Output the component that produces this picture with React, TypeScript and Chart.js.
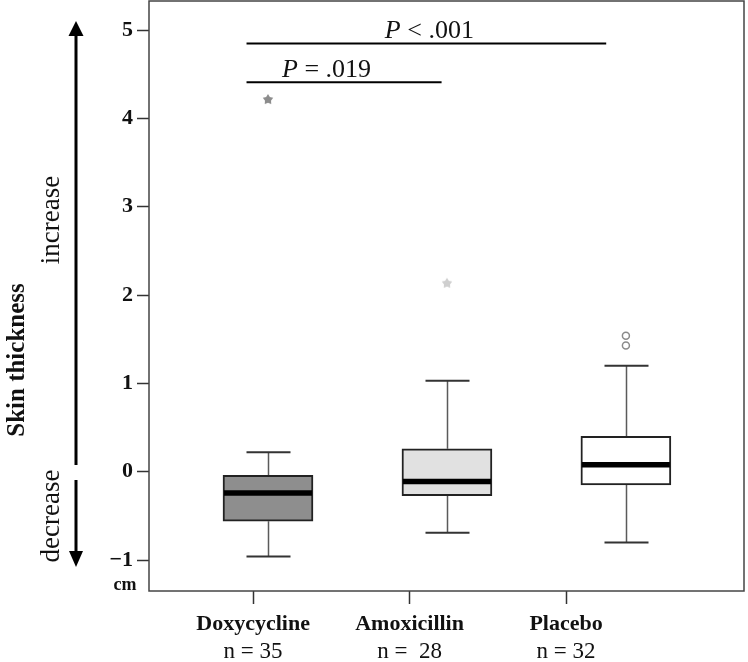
import React, { useEffect, useRef } from "react";
import { Chart, registerables } from "chart.js";

Chart.register(...registerables);

// ---- data ----
const groups = ["Doxycycline", "Amoxicillin", "Placebo"];
const groupN = ["n = 35", "n =  28", "n = 32"];
const whiskerLow = [-0.96, -0.69, -0.8];
const quartile1 = [-0.56, -0.27, -0.15];
const medians = [-0.24, -0.11, 0.08];
const quartile3 = [-0.04, 0.26, 0.4];
const whiskerHigh = [0.22, 1.03, 1.2];
const extremeGroup = [0, 1];
const extremeValue = [4.22, 2.14];
const outlierGroup = [2, 2];
const outlierValue = [1.54, 1.43];
const yTicks = [-1, 0, 1, 2, 3, 4, 5];
const sigLabels = ["P < .001", "P = .019"];
const sigLevel = [4.85, 4.41];
const sigFrom = [-0.12, -0.12];
const sigTo = [1.89, 0.97];

const SERIF = "'Liberation Serif', 'Times New Roman', serif";
const boxFill = ["#8e8e8e", "#e1e1e1", "#ffffff"];
const starColor = ["#8c8c8c", "#cfcfcf"];

function makeStar(color: string) {
  const c = document.createElement("canvas");
  c.width = 12;
  c.height = 12;
  const g = c.getContext("2d")!;
  g.fillStyle = color;
  g.beginPath();
  for (let i = 0; i < 10; i++) {
    const r = i % 2 === 0 ? 5.5 : 3.2;
    const a = -Math.PI / 2 + (i * Math.PI) / 5;
    const px = 6 + r * Math.cos(a);
    const py = 6.5 + r * Math.sin(a);
    if (i === 0) g.moveTo(px, py);
    else g.lineTo(px, py);
  }
  g.closePath();
  g.fill();
  return c;
}

export default function App() {
  const ref = useRef<HTMLCanvasElement>(null);

  useEffect(() => {
    document.body.style.margin = "0";
    const stars = starColor.map(makeStar);

    const boxPlugin = {
      id: "boxDecor",
      beforeDatasetsDraw(chart: any) {
        const ctx = chart.ctx;
        const xs = chart.scales.xb;
        const ys = chart.scales.y;
        ctx.save();
        groups.forEach((_, i) => {
          const cx = Math.round(xs.getPixelForValue(i)) + 0.5;
          ctx.strokeStyle = "#5a5a5a";
          ctx.lineWidth = 1.5;
          ctx.beginPath();
          ctx.moveTo(cx, ys.getPixelForValue(whiskerHigh[i]));
          ctx.lineTo(cx, ys.getPixelForValue(quartile3[i]));
          ctx.moveTo(cx, ys.getPixelForValue(quartile1[i]));
          ctx.lineTo(cx, ys.getPixelForValue(whiskerLow[i]));
          ctx.stroke();
          ctx.strokeStyle = "#333";
          ctx.lineWidth = 2;
          ctx.beginPath();
          [whiskerHigh[i], whiskerLow[i]].forEach((v) => {
            const y = ys.getPixelForValue(v);
            ctx.moveTo(cx - 22, y);
            ctx.lineTo(cx + 22, y);
          });
          ctx.stroke();
        });
        ctx.restore();
      },
      afterDatasetsDraw(chart: any) {
        const ctx = chart.ctx;
        const xs = chart.scales.xb;
        const ys = chart.scales.y;
        ctx.save();
        groups.forEach((_, i) => {
          const cx = xs.getPixelForValue(i);
          const y = ys.getPixelForValue(medians[i]);
          ctx.strokeStyle = "#000";
          ctx.lineWidth = 5.5;
          ctx.beginPath();
          ctx.moveTo(cx - 44, y);
          ctx.lineTo(cx + 44, y);
          ctx.stroke();
        });
        // frame
        const a = chart.chartArea;
        ctx.strokeStyle = "#444";
        ctx.lineWidth = 1.5;
        ctx.strokeRect(a.left, a.top, a.right - a.left, a.bottom - a.top);
        ctx.restore();
      },
      afterDraw(chart: any) {
        const ctx = chart.ctx;
        const xs = chart.scales.xb;
        const xl = chart.scales.x;
        const ys = chart.scales.y;
        ctx.save();
        // significance bars
        sigLabels.forEach((lab, k) => {
          const y = ys.getPixelForValue(sigLevel[k]);
          const x1 = xs.getPixelForValue(sigFrom[k]);
          const x2 = xs.getPixelForValue(sigTo[k]);
          ctx.strokeStyle = "#000";
          ctx.lineWidth = 2;
          ctx.beginPath();
          ctx.moveTo(x1, y);
          ctx.lineTo(x2, y);
          ctx.stroke();
          const rest = lab.slice(1);
          ctx.font = `italic 26px ${SERIF}`;
          const wP = ctx.measureText("P").width;
          ctx.font = `26px ${SERIF}`;
          const wR = ctx.measureText(rest).width;
          const cxText = k === 0 ? (x1 + x2) / 2 + 3 : x1 + 80;
          const left = cxText - (wP + wR) / 2;
          ctx.fillStyle = "#111";
          ctx.textBaseline = "alphabetic";
          ctx.textAlign = "left";
          ctx.font = `italic 26px ${SERIF}`;
          ctx.fillText("P", left, y - 5);
          ctx.font = `26px ${SERIF}`;
          ctx.fillText(rest, left + wP, y - 5);
        });
        // n labels
        ctx.fillStyle = "#111";
        ctx.textAlign = "center";
        ctx.textBaseline = "middle";
        ctx.font = `23px ${SERIF}`;
        groupN.forEach((t, i) => {
          ctx.fillText(t, xl.getPixelForValue(i), 652);
        });
        // cm
        ctx.font = `bold 18px ${SERIF}`;
        ctx.fillText("cm", 125, 585);
        // arrows
        const ax = 76;
        ctx.strokeStyle = "#000";
        ctx.fillStyle = "#000";
        ctx.lineWidth = 3;
        ctx.beginPath();
        ctx.moveTo(ax, 34);
        ctx.lineTo(ax, 465);
        ctx.moveTo(ax, 480);
        ctx.lineTo(ax, 553);
        ctx.stroke();
        ctx.beginPath();
        ctx.moveTo(ax, 21);
        ctx.lineTo(ax - 7.5, 36);
        ctx.lineTo(ax + 7.5, 36);
        ctx.closePath();
        ctx.fill();
        ctx.beginPath();
        ctx.moveTo(ax, 567);
        ctx.lineTo(ax - 7, 551);
        ctx.lineTo(ax + 7, 551);
        ctx.closePath();
        ctx.fill();
        // rotated texts
        const rot = (text: string, x: number, y: number, font: string) => {
          ctx.save();
          ctx.translate(x, y);
          ctx.rotate(-Math.PI / 2);
          ctx.font = font;
          ctx.textAlign = "center";
          ctx.textBaseline = "alphabetic";
          ctx.fillStyle = "#111";
          ctx.fillText(text, 0, 0);
          ctx.restore();
        };
        rot("Skin thickness", 24, 360, `bold 25px ${SERIF}`);
        rot("increase", 59, 220, `27px ${SERIF}`);
        rot("decrease", 59, 516, `27px ${SERIF}`);
        ctx.restore();
      },
    };

    const chart = new Chart(ref.current!, {
      type: "bar",
      data: {
        datasets: [
          {
            type: "bar",
            xAxisID: "xb",
            yAxisID: "y",
            data: groups.map((_, i) => ({ x: i, y: [quartile1[i], quartile3[i]] })) as any,
            backgroundColor: boxFill,
            borderColor: "#222",
            borderWidth: 2,
            borderSkipped: false,
            barThickness: 90,
          },
          {
            type: "scatter",
            xAxisID: "xb",
            yAxisID: "y",
            data: extremeGroup.map((g, i) => ({ x: g, y: extremeValue[i] })),
            pointStyle: (c: any) => stars[c.dataIndex] as any,
            pointRadius: 6,
          },
          {
            type: "scatter",
            xAxisID: "xb",
            yAxisID: "y",
            data: outlierGroup.map((g, i) => ({ x: g, y: outlierValue[i] })),
            pointStyle: "circle",
            pointRadius: 3.5,
            borderColor: "#8a8a8a",
            backgroundColor: "#fff",
            borderWidth: 1.5,
          },
        ] as any,
      },
      options: {
        animation: false,
        responsive: false,
        events: [],
        layout: { autoPadding: false, padding: { left: 0, top: 1, right: 4, bottom: 0 } },
        plugins: { legend: { display: false }, tooltip: { enabled: false } },
        scales: {
          xb: {
            type: "linear",
            display: false,
            min: -0.665,
            max: 2.66,
            offset: false,
          },
          x: {
            type: "linear",
            position: "bottom",
            min: -0.665,
            max: 3.137,
            offset: false,
            afterBuildTicks: (s: any) => {
              s.ticks = groups.map((_, i) => ({ value: i }));
            },
            afterFit: (s: any) => {
              s.height = 71;
              s.paddingLeft = 0;
              s.paddingRight = 0;
            },
            ticks: {
              callback: (v: any) => groups[v] ?? "",
              font: { family: SERIF, size: 22, weight: "bold" },
              color: "#111",
              padding: 7,
              maxRotation: 0,
              autoSkip: false,
            },
            grid: {
              drawOnChartArea: false,
              drawTicks: true,
              tickLength: 13,
              tickWidth: 1.5,
              tickColor: "#333",
              offset: false,
            },
            border: { display: false },
          },
          y: {
            type: "linear",
            min: -1.35,
            max: 5.33,
            afterBuildTicks: (s: any) => {
              s.ticks = yTicks.map((v) => ({ value: v }));
            },
            afterFit: (s: any) => {
              s.width = 149;
              s.paddingTop = 0;
              s.paddingBottom = 0;
            },
            ticks: {
              callback: (v: any) => (v < 0 ? "\u2212" + Math.abs(v) : String(v)),
              font: { family: SERIF, size: 22, weight: "bold" },
              color: "#111",
              padding: 4,
            },
            grid: {
              drawOnChartArea: false,
              drawTicks: true,
              tickLength: 12,
              tickWidth: 1.5,
              tickColor: "#333",
            },
            border: { display: false },
          },
        },
      } as any,
      plugins: [boxPlugin],
    });
    return () => chart.destroy();
  }, []);

  return <canvas ref={ref} width={748} height={662} style={{ display: "block" }} />;
}
